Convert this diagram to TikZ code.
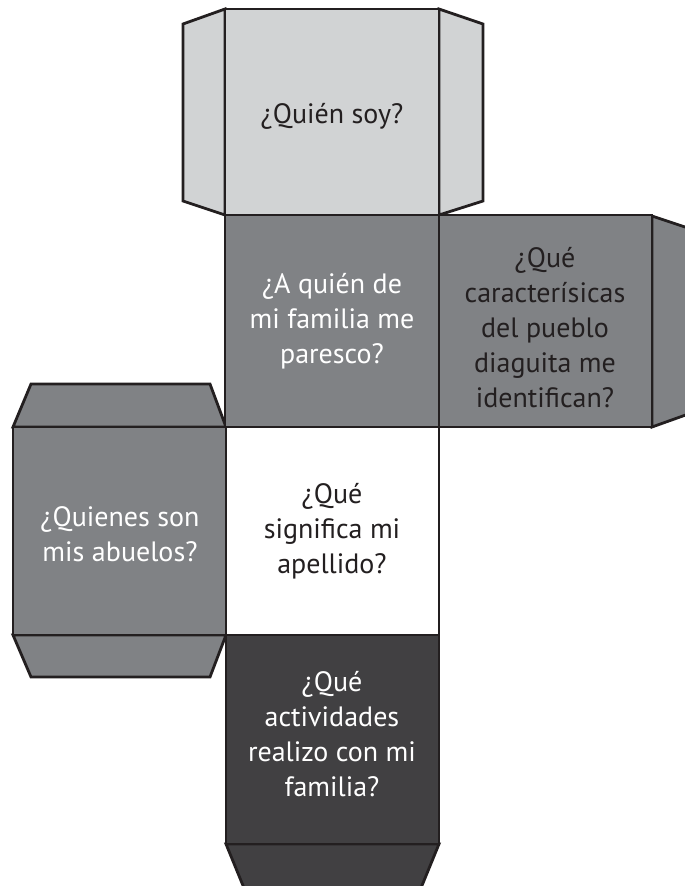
\documentclass[tikz,border=0pt]{standalone}
\usepackage{fontspec}
\setmainfont{PT Sans}
\definecolor{lightg}{HTML}{D1D3D4}
\definecolor{midg}{HTML}{808285}
\definecolor{darkg}{HTML}{414042}
\definecolor{ink}{HTML}{231F20}
\tikzset{
  facebox/.style={draw=ink, line width=2.8pt, line join=miter},
  qtext/.style={align=center, font=\fontsize{28}{35}\selectfont},
}
\begin{document}
\begin{tikzpicture}[x=1pt,y=-1pt]
\useasboundingbox (0,0) rectangle (685,886);
\clip (0,0) rectangle (685,886);
% tabs
\draw[facebox, fill=lightg] (225,9) -- (183,24) -- (183,201) -- (225,215) -- cycle;
\draw[facebox, fill=lightg] (439,9) -- (483,24) -- (483,201) -- (439,215) -- cycle;
\draw[facebox, fill=midg] (652,216) -- (694,230) -- (694,412) -- (652,427) -- cycle;
\draw[facebox, fill=midg] (13,427) -- (31,384) -- (210,384) -- (226,427) -- cycle;
\draw[facebox, fill=midg] (13,635) -- (31,677) -- (210,677) -- (226,635) -- cycle;
\draw[facebox, fill=darkg] (226,844) -- (244,888) -- (421,888) -- (439,844) -- cycle;
% faces
\draw[facebox, fill=lightg] (225,9) rectangle (439,215);
\draw[facebox, fill=midg] (225,215) rectangle (439,427);
\draw[facebox, fill=midg] (439,215) rectangle (652,427);
\draw[facebox, fill=midg] (13,427) rectangle (226,635);
\draw[facebox, fill=white] (226,427) rectangle (439,635);
\draw[facebox, fill=darkg] (226,635) rectangle (439,844);
% texts
\node[qtext, text=ink] (quien) at (332,116) {¿Quién soy?};
\node[qtext, text=white] (parezco) at (332,321) {¿A quién de\\mi familia me\\paresco?};
\node[qtext, text=ink] (diaguita) at (545,328) {¿Qué\\caracterísicas\\del pueblo\\diaguita me\\identifican?};
\node[qtext, text=white] (abuelos) at (120,534) {¿Quienes son\\mis abuelos?};
\node[qtext, text=ink] (apellido) at (332,531) {¿Qué\\significa mi\\apellido?};
\node[qtext, text=white] (familia) at (332,734) {¿Qué\\actividades\\realizo con mi\\familia?};
\end{tikzpicture}
\end{document}
